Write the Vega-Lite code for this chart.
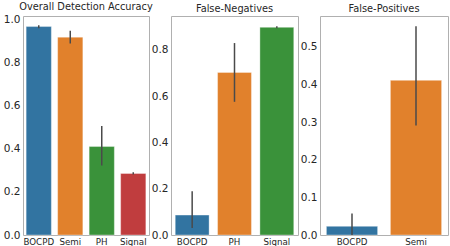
{
  "$schema": "https://vega.github.io/schema/vega-lite/v6.json",
  "padding": {"left": 2, "top": 1, "right": 0, "bottom": 0},
  "spacing": 22,
  "bounds": "flush",
  "config": {
    "font": "DejaVu Sans",
    "view": {"stroke": "#b0b0b0", "strokeWidth": 1},
    "axis": {"grid": false, "domain": false, "ticks": false, "labelColor": "#262626", "labelFont": "DejaVu Sans"},
    "title": {"font": "DejaVu Sans", "fontSize": 9.8, "fontWeight": "normal", "color": "#262626", "offset": 2}
  },
  "datasets": {
    "acc": [
      {"method": "BOCPD", "value": 0.966, "lo": 0.958, "hi": 0.972},
      {"method": "Semi", "value": 0.917, "lo": 0.888, "hi": 0.947},
      {"method": "PH", "value": 0.41, "lo": 0.322, "hi": 0.505},
      {"method": "Signal", "value": 0.285, "lo": 0.28, "hi": 0.291}
    ],
    "fn": [
      {"method": "BOCPD", "value": 0.086, "lo": 0.03, "hi": 0.189},
      {"method": "PH", "value": 0.703, "lo": 0.576, "hi": 0.83},
      {"method": "Signal", "value": 0.898, "lo": 0.894, "hi": 0.903}
    ],
    "fp": [
      {"method": "BOCPD", "value": 0.023, "lo": 0.0, "hi": 0.057},
      {"method": "Semi", "value": 0.411, "lo": 0.291, "hi": 0.555}
    ]
  },
  "resolve": {"scale": {"color": "independent", "y": "independent", "x": "independent"}},
  "hconcat": [
    {
      "title": "Overall Detection Accuracy",
      "width": 126, "height": 219,
      "data": {"name": "acc"},
      "encoding": {
        "x": {"field": "method", "type": "nominal", "sort": null, "title": null,
              "scale": {"paddingInner": 0.2, "paddingOuter": 0.1},
              "axis": {"labelAngle": 0, "labelFontSize": 8.7, "labelPadding": 2}}
      },
      "layer": [
        {"mark": {"type": "bar", "stroke": "#ffffff", "strokeOpacity": 0.35, "strokeWidth": 1},
         "encoding": {
           "y": {"field": "value", "type": "quantitative", "title": null,
                 "scale": {"domain": [0, 1.015], "nice": false},
                 "axis": {"values": [0, 0.2, 0.4, 0.6, 0.8, 1.0], "format": ".1f", "labelFontSize": 10.5, "labelPadding": 3}},
           "color": {"field": "method", "type": "nominal", "legend": null,
                     "scale": {"domain": ["BOCPD", "Semi", "PH", "Signal"], "range": ["#3274a1", "#e1812c", "#3a923a", "#c03d3e"]}}
         }},
        {"mark": {"type": "rule", "color": "#4a4a4a", "strokeWidth": 1.5},
         "encoding": {"y": {"field": "lo", "type": "quantitative"}, "y2": {"field": "hi"}}}
      ]
    },
    {
      "title": "False-Negatives",
      "width": 127, "height": 219,
      "data": {"name": "fn"},
      "encoding": {
        "x": {"field": "method", "type": "nominal", "sort": null, "title": null,
              "scale": {"paddingInner": 0.2, "paddingOuter": 0.1},
              "axis": {"labelAngle": 0, "labelFontSize": 8.7, "labelPadding": 2}}
      },
      "layer": [
        {"mark": {"type": "bar", "stroke": "#ffffff", "strokeOpacity": 0.35, "strokeWidth": 1},
         "encoding": {
           "y": {"field": "value", "type": "quantitative", "title": null,
                 "scale": {"domain": [0, 0.947], "nice": false},
                 "axis": {"values": [0, 0.2, 0.4, 0.6, 0.8], "format": ".1f", "labelFontSize": 10.5, "labelPadding": 3}},
           "color": {"field": "method", "type": "nominal", "legend": null,
                     "scale": {"domain": ["BOCPD", "PH", "Signal"], "range": ["#3274a1", "#e1812c", "#3a923a"]}}
         }},
        {"mark": {"type": "rule", "color": "#4a4a4a", "strokeWidth": 1.5},
         "encoding": {"y": {"field": "lo", "type": "quantitative"}, "y2": {"field": "hi"}}}
      ]
    },
    {
      "title": "False-Positives",
      "width": 128, "height": 219,
      "data": {"name": "fp"},
      "encoding": {
        "x": {"field": "method", "type": "nominal", "sort": null, "title": null,
              "scale": {"paddingInner": 0.2, "paddingOuter": 0.1},
              "axis": {"labelAngle": 0, "labelFontSize": 8.7, "labelPadding": 2}}
      },
      "layer": [
        {"mark": {"type": "bar", "stroke": "#ffffff", "strokeOpacity": 0.35, "strokeWidth": 1},
         "encoding": {
           "y": {"field": "value", "type": "quantitative", "title": null,
                 "scale": {"domain": [0, 0.582], "nice": false},
                 "axis": {"values": [0, 0.1, 0.2, 0.3, 0.4, 0.5], "format": ".1f", "labelFontSize": 10.5, "labelPadding": 3}},
           "color": {"field": "method", "type": "nominal", "legend": null,
                     "scale": {"domain": ["BOCPD", "Semi"], "range": ["#3274a1", "#e1812c"]}}
         }},
        {"mark": {"type": "rule", "color": "#4a4a4a", "strokeWidth": 1.5},
         "encoding": {"y": {"field": "lo", "type": "quantitative"}, "y2": {"field": "hi"}}}
      ]
    }
  ]
}
